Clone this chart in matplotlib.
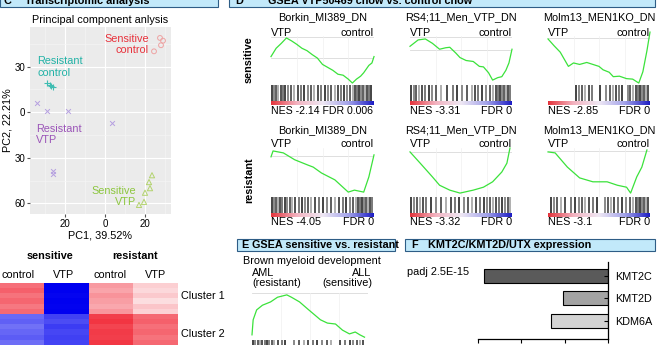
import numpy as np
import matplotlib
matplotlib.use('Agg')
import matplotlib.pyplot as plt
from matplotlib.patches import Rectangle
from matplotlib.colors import LinearSegmentedColormap

plt.rcParams['font.family'] = ['Liberation Sans', 'DejaVu Sans']

# ---------------- data ----------------
# PCA
pca_labels = ['Sensitive\ncontrol', 'Resistant\ncontrol', 'Resistant\nVTP', 'Sensitive\nVTP']
sens_ctrl_pc1 = [27.5, 29.0, 28.0, 24.5]
sens_ctrl_pc2 = [48.8, 47.0, 44.0, 40.0]
res_ctrl_pc1 = [-29.0, -27.5, -26.0, -27.0]
res_ctrl_pc2 = [19.0, 18.0, 16.5, 17.5]
res_vtp_pc1 = [-34.0, -29.0, -18.5, 3.5, -26.0, -26.0]
res_vtp_pc2 = [6.0, 0.7, 0.7, -7.0, -39.0, -40.5]
sens_vtp_pc1 = [23.5, 22.0, 22.5, 20.0, 19.5, 17.0]
sens_vtp_pc2 = [-41.5, -46.0, -50.0, -53.0, -59.0, -61.0]
pca_xticks = [-20, 0, 20]
pca_xticklabels = ['20', '0', '20']
pca_yticks = [30, 0, -30, -60]
pca_yticklabels = ['30', '0', '30', '60']

# Heatmap
heat_groups = ['sensitive', 'resistant']
heat_cols = ['control', 'VTP', 'control', 'VTP']
heat_clusters = ['Cluster 1', 'Cluster 2']
heat_values = [
    [0.60, -1.00, 0.42, 0.20],
    [0.66, -1.00, 0.38, 0.16],
    [0.58, -0.98, 0.45, 0.22],
    [0.64, -1.00, 0.40, 0.14],
    [0.56, -0.99, 0.36, 0.24],
    [0.62, -1.00, 0.43, 0.18],
    [-0.58, -0.74, 0.80, 0.62],
    [-0.62, -0.70, 0.84, 0.66],
    [-0.55, -0.76, 0.78, 0.60],
    [-0.60, -0.72, 0.82, 0.64],
    [-0.64, -0.75, 0.80, 0.58],
    [-0.57, -0.73, 0.83, 0.63],
]

# GSEA (panel D)
gsea_titles = ['Borkin_MI389_DN', 'RS4;11_Men_VTP_DN', 'Molm13_MEN1KO_DN']
gsea_rows = ['sensitive', 'resistant']
gsea_nes = [['-2.14', '-3.31', '-2.85'], ['-4.05', '-3.32', '-3.1']]
gsea_fdr = [['0.006', '0', '0'], ['0', '0', '0']]

sens_borkin_x = [0, 0.05, 0.1, 0.15, 0.2, 0.25, 0.3, 0.35, 0.4, 0.45, 0.5, 0.55, 0.6, 0.65, 0.7, 0.75, 0.79, 0.83, 0.87, 0.9, 0.95, 0.98, 1.0]
sens_borkin_y = [0.58, 0.75, 0.85, 0.96, 0.9, 0.83, 0.75, 0.7, 0.62, 0.55, 0.42, 0.36, 0.3, 0.22, 0.2, 0.12, 0.04, 0.12, 0.18, 0.25, 0.4, 0.45, 0.58]
sens_rs4_x = [0, 0.08, 0.15, 0.22, 0.29, 0.35, 0.39, 0.45, 0.49, 0.55, 0.62, 0.68, 0.72, 0.77, 0.81, 0.86, 0.9, 0.94, 0.97, 1.0]
sens_rs4_y = [0.79, 0.92, 0.94, 0.85, 0.73, 0.76, 0.77, 0.65, 0.56, 0.5, 0.48, 0.38, 0.37, 0.25, 0.1, 0.15, 0.17, 0.3, 0.45, 0.73]
sens_molm_x = [0, 0.06, 0.12, 0.2, 0.25, 0.31, 0.38, 0.44, 0.5, 0.54, 0.6, 0.64, 0.7, 0.77, 0.83, 0.89, 0.93, 0.97, 1.0]
sens_molm_y = [0.94, 0.8, 0.67, 0.38, 0.45, 0.42, 0.46, 0.42, 0.38, 0.31, 0.26, 0.17, 0.18, 0.13, 0.12, 0.04, 0.27, 0.7, 1.08]
res_borkin_x = [0, 0.02, 0.12, 0.23, 0.36, 0.41, 0.49, 0.62, 0.75, 0.81, 0.9, 0.95, 1.0]
res_borkin_y = [0.82, 0.94, 0.9, 0.76, 0.65, 0.61, 0.49, 0.35, 0.1, 0.14, 0.1, 0.41, 0.86]
res_rs4_x = [0, 0.1, 0.22, 0.29, 0.39, 0.49, 0.62, 0.72, 0.81, 0.9, 0.95, 0.98]
res_rs4_y = [0.92, 0.69, 0.41, 0.24, 0.14, 0.08, 0.14, 0.2, 0.31, 0.51, 0.69, 1.0]
res_molm_x = [0, 0.07, 0.19, 0.31, 0.44, 0.58, 0.68, 0.77, 0.81, 0.87, 0.92, 0.97]
res_molm_y = [0.92, 0.9, 0.61, 0.39, 0.31, 0.31, 0.24, 0.2, 0.08, 0.41, 0.61, 0.96]

sens_borkin_hits = [0.0, 0.02, 0.04, 0.06, 0.09, 0.11, 0.13, 0.16, 0.19, 0.22, 0.25, 0.28, 0.31, 0.35, 0.38, 0.41, 0.45, 0.48, 0.52, 0.55, 0.58, 0.62, 0.65, 0.68, 0.71, 0.74, 0.76, 0.79, 0.81, 0.83, 0.85, 0.87, 0.89, 0.91, 0.93, 0.95, 0.97]
sens_rs4_hits = [0.0, 0.03, 0.05, 0.08, 0.11, 0.14, 0.18, 0.21, 0.25, 0.3, 0.36, 0.42, 0.46, 0.5, 0.55, 0.6, 0.63, 0.66, 0.7, 0.74, 0.78, 0.81, 0.84, 0.86, 0.88, 0.9, 0.92, 0.94, 0.96, 0.98]
sens_molm_hits = [0.27, 0.3, 0.33, 0.36, 0.4, 0.43, 0.5, 0.56, 0.6, 0.63, 0.66, 0.69, 0.72, 0.78, 0.8, 0.83, 0.86, 0.88, 0.9, 0.92, 0.94, 0.96, 0.98]
res_borkin_hits = [0.0, 0.02, 0.04, 0.06, 0.08, 0.1, 0.13, 0.15, 0.18, 0.2, 0.23, 0.26, 0.29, 0.32, 0.35, 0.38, 0.42, 0.46, 0.5, 0.54, 0.58, 0.62, 0.66, 0.7, 0.73, 0.76, 0.79, 0.82, 0.84, 0.86, 0.88, 0.9, 0.92, 0.94, 0.96, 0.98]
res_rs4_hits = [0.0, 0.03, 0.06, 0.09, 0.12, 0.15, 0.2, 0.25, 0.3, 0.35, 0.4, 0.44, 0.48, 0.52, 0.56, 0.6, 0.64, 0.68, 0.72, 0.75, 0.78, 0.81, 0.84, 0.87, 0.9, 0.93, 0.96, 0.98]
res_molm_hits = [0.02, 0.05, 0.08, 0.12, 0.16, 0.22, 0.26, 0.3, 0.33, 0.36, 0.4, 0.44, 0.48, 0.55, 0.58, 0.61, 0.64, 0.68, 0.72, 0.76, 0.8, 0.83, 0.86, 0.88, 0.9, 0.92, 0.94, 0.96, 0.98]

sens_grid = [[0.98, 0.55], [0.98, 0.71], [0.96]]
res_grid = [[0.84], [0.92], [0.94]]

# GSEA (panel E)
brown_title = 'Brown myeloid development'
brown_x = [0, 0.01, 0.04, 0.09, 0.16, 0.22, 0.3, 0.34, 0.41, 0.48, 0.59, 0.65, 0.72, 0.78, 0.84, 0.89, 0.93, 0.97]
brown_y = [0.11, 0.43, 0.64, 0.74, 0.81, 0.91, 0.96, 0.91, 0.81, 0.66, 0.43, 0.36, 0.34, 0.21, 0.13, 0.17, 0.11, 0.06]
brown_hits = [0.0, 0.02, 0.04, 0.06, 0.08, 0.1, 0.12, 0.14, 0.16, 0.18, 0.22, 0.25, 0.28, 0.36, 0.4, 0.44, 0.48, 0.52, 0.56, 0.6, 0.64, 0.68, 0.76, 0.8, 0.84, 0.87, 0.9, 0.93, 0.96]

# Expression (panel F)
expr_genes = ['KMT2C', 'KMT2D', 'KDM6A']
expr_lfc = [-2.86, -1.03, -1.31]
expr_colors = ['#5a5a5a', '#a3a3a3', '#d3d3d3']
expr_padj = 'padj 2.5E-15'

# ---------------- figure ----------------
W, H = 659, 345
fig = plt.figure(figsize=(W / 100, H / 100), dpi=100)
FS = 7.8


def ax_px(x0, y0, x1, y1, **kw):
    return fig.add_axes([x0 / W, 1 - y1 / H, (x1 - x0) / W, (y1 - y0) / H], **kw)


def ftext(x, y, s, **kw):
    kw.setdefault('fontsize', FS)
    return fig.text(x / W, 1 - y / H, s, **kw)


def header(x0, y0, x1, y1):
    fig.patches.append(Rectangle((x0 / W, 1 - y1 / H), (x1 - x0) / W, (y1 - y0) / H,
                                 transform=fig.transFigure, facecolor='#c2e9fa',
                                 edgecolor='#2e5d86', lw=0.8))


HFS = 7.8
# Headers (top ones are cut by the figure edge, as in the reference)
header(0, -4, 218, 7)
ftext(3, 4.5, 'C', fontweight='bold', va='baseline', fontsize=HFS)
ftext(25, 4.5, 'Transcriptomic analysis', fontweight='bold', va='baseline', fontsize=HFS)
header(229, -4, 655, 7)
ftext(235, 4.5, 'D', fontweight='bold', va='baseline', fontsize=HFS)
ftext(268, 4.5, 'GSEA VTP50469 chow vs. control chow', fontweight='bold', va='baseline', fontsize=HFS)
header(237, 239, 395, 251)
ftext(241, 245.5, 'E', fontweight='bold', va='center', fontsize=HFS)
ftext(252, 245.5, 'GSEA sensitive vs. resistant', fontweight='bold', va='center', fontsize=HFS)
header(405, 239, 655, 251)
ftext(411, 245.5, 'F', fontweight='bold', va='center', fontsize=HFS)
ftext(428, 245.5, 'KMT2C/KMT2D/UTX expression', fontweight='bold', va='center', fontsize=HFS)

# ---------------- PCA ----------------
ax = ax_px(30, 27, 171, 214)
ax.set_facecolor('#ebebeb')
ax.set_xlim(-37.5, 33)
ax.set_ylim(-67, 56)
ax.set_xticks(pca_xticks)
ax.set_xticklabels(pca_xticklabels)
ax.set_yticks(pca_yticks)
ax.set_yticklabels(pca_yticklabels)
ax.set_xticks([-30, -10, 10, 30], minor=True)
ax.set_yticks([45, 15, -15, -45], minor=True)
ax.grid(True, which='major', color='white', lw=0.8)
ax.grid(True, which='minor', color='#f5f5f5', lw=0.5)
ax.set_axisbelow(True)
for s in ax.spines.values():
    s.set_visible(False)
ax.tick_params(which='major', length=2, color='#555555', labelsize=7, pad=1.5)
ax.tick_params(which='minor', length=0)
ax.set_xlabel('PC1, 39.52%', fontsize=FS, labelpad=1)
ax.set_ylabel('PC2, 22.21%', fontsize=FS, labelpad=1)
ax.set_title('Principal component anlysis', fontsize=FS, pad=3)
ax.scatter(sens_ctrl_pc1, sens_ctrl_pc2, s=12, marker='o', facecolors='none', edgecolors='#eea3a3', lw=0.7)
ax.scatter(res_ctrl_pc1, res_ctrl_pc2, s=18, marker='+', color='#3fbdb2', lw=0.8)
ax.scatter(res_vtp_pc1, res_vtp_pc2, s=12, marker='x', color='#b59fe0', lw=0.7)
ax.scatter(sens_vtp_pc1, sens_vtp_pc2, s=14, marker='^', facecolors='none', edgecolors='#b3d36e', lw=0.7)
lab_cols = ['#e8323c', '#21b2a6', '#9b54b8', '#8cc63e']
ax.text(22, 44.5, pca_labels[0], color=lab_cols[0], ha='right', va='center', fontsize=FS, linespacing=1.2)
ax.text(-34, 29.7, pca_labels[1], color=lab_cols[1], ha='left', va='center', fontsize=FS, linespacing=1.2)
ax.text(-34.5, -14.8, pca_labels[2], color=lab_cols[2], ha='left', va='center', fontsize=FS, linespacing=1.2)
ax.text(15.5, -55.4, pca_labels[3], color=lab_cols[3], ha='right', va='center', fontsize=FS, linespacing=1.2)

# ---------------- Heatmap ----------------
hcmap = LinearSegmentedColormap.from_list('hm', ['#0000f0', '#ffffff', '#f01020'])
axh = ax_px(0, 283, 178, 345)
axh.imshow(np.array(heat_values), cmap=hcmap, vmin=-1, vmax=1, aspect='auto', interpolation='nearest')
axh.set_axis_off()
ftext(50, 256, heat_groups[0], fontweight='bold', ha='center', va='center')
ftext(135, 256, heat_groups[1], fontweight='bold', ha='center', va='center')
for xc, lab in zip([18, 64, 110, 156], heat_cols):
    ftext(xc, 275, lab, ha='center', va='center')
ftext(181, 296, heat_clusters[0], ha='left', va='center')
ftext(181, 334, heat_clusters[1], ha='left', va='center')

# ---------------- GSEA D ----------------
bar_cmap = LinearSegmentedColormap.from_list('rb', ['#e4343c', '#f3b3c0', '#efe8f4', '#a4a4ea', '#1d1dc4'])
grad = np.linspace(0, 1, 256)[None, :]
hit_cols = ['#111111', '#6a6a6a', '#333333', '#9a9a9a', '#222222', '#555555']


def es_panel(x0, x1, yt, yb, cx, cy, hits, grid, bar_h=16, cbar_h=4):
    a = ax_px(x0, yt, x1, yb)
    a.set_xlim(0, 1)
    a.set_ylim(0, 1)
    for g in grid:
        a.axhline(g, color='#d9d9d9', lw=0.6, zorder=0)
    for gx in [0.25, 0.5, 0.75]:
        a.axvline(gx, color='#f0f0f0', lw=0.5, zorder=0)
    a.plot(cx, cy, color='#3be23b', lw=0.9, clip_on=False)
    a.set_axis_off()
    b = ax_px(x0, yb, x1, yb + bar_h)
    b.set_xlim(-0.01, 1.0)
    b.set_ylim(0, 1)
    for i, h in enumerate(hits):
        b.axvline(h, color=hit_cols[i % len(hit_cols)], lw=1.1)
    b.set_axis_off()
    if cbar_h:
        c = ax_px(x0, yb + bar_h, x1, yb + bar_h + cbar_h)
        c.imshow(grad, cmap=bar_cmap, aspect='auto')
        c.set_axis_off()


cols_x = [(271, 374), (410, 512), (548, 650)]
rows_cfg = [
    dict(yt=36, yb=85, title_y=17, lab_y=33, nes_y=111,
         curves=[(sens_borkin_x, sens_borkin_y), (sens_rs4_x, sens_rs4_y), (sens_molm_x, sens_molm_y)],
         hits=[sens_borkin_hits, sens_rs4_hits, sens_molm_hits], grid=sens_grid, rowlab_y=60),
    dict(yt=148, yb=197, title_y=130, lab_y=144, nes_y=222,
         curves=[(res_borkin_x, res_borkin_y), (res_rs4_x, res_rs4_y), (res_molm_x, res_molm_y)],
         hits=[res_borkin_hits, res_rs4_hits, res_molm_hits], grid=res_grid, rowlab_y=180),
]
for r, cfg in enumerate(rows_cfg):
    ftext(249, cfg['rowlab_y'], gsea_rows[r], fontweight='bold', rotation=90, ha='center', va='center')
    for c, (x0, x1) in enumerate(cols_x):
        cx, cy = cfg['curves'][c]
        es_panel(x0, x1, cfg['yt'], cfg['yb'], cx, cy, cfg['hits'][c], cfg['grid'][c])
        ftext((x0 + x1) / 2, cfg['title_y'], gsea_titles[c], ha='center', va='center')
        ftext(x0, cfg['lab_y'], 'VTP', ha='left', va='center')
        ftext(x1, cfg['lab_y'], 'control', ha='right', va='center')
        if len(gsea_fdr[r][c]) > 2:
            ftext(x0, cfg['nes_y'], 'NES ' + gsea_nes[r][c] + ' FDR ' + gsea_fdr[r][c],
                  ha='left', va='center', fontsize=7.6)
        else:
            ftext(x0, cfg['nes_y'], 'NES ' + gsea_nes[r][c], ha='left', va='center')
            ftext(x1, cfg['nes_y'], 'FDR ' + gsea_fdr[r][c], ha='right', va='center')

# ---------------- GSEA E ----------------
ftext(243, 261, brown_title, ha='left', va='center')
ftext(252, 272.5, 'AML', ha='left', va='center')
ftext(252, 283.5, '(resistant)', ha='left', va='center')
ftext(371, 272.5, 'ALL', ha='right', va='center')
ftext(372, 283.5, '(sensitive)', ha='right', va='center')
es_panel(252, 368, 293, 340, brown_x, brown_y, brown_hits, [1.0], bar_h=10, cbar_h=0)

# ---------------- Expression F ----------------
axf = ax_px(478, 262, 608, 339)
ypos = np.arange(len(expr_genes))
axf.barh(ypos, expr_lfc, height=0.62, color=expr_colors, edgecolor='black', lw=0.8)
axf.set_xlim(-3, 0)
axf.set_ylim(2.8, -0.62)
axf.spines['left'].set_visible(False)
axf.spines['top'].set_visible(False)
axf.spines['right'].set_linewidth(0.9)
axf.spines['bottom'].set_linewidth(0.9)
axf.yaxis.tick_right()
axf.set_yticks(ypos)
axf.set_yticklabels(expr_genes, fontsize=FS)
axf.tick_params(axis='y', direction='in', length=3, pad=5, width=0.8)
axf.set_xticks([-3, -2, -1, 0])
axf.tick_params(axis='x', direction='out', length=3, labelbottom=False, width=0.8)
ftext(407, 272, expr_padj, ha='left', va='center')

fig.savefig('out.png', dpi=100)
